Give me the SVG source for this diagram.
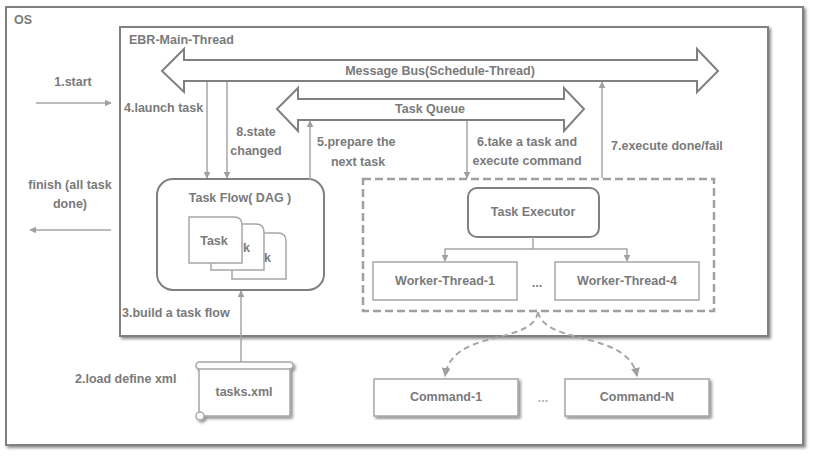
<svg xmlns="http://www.w3.org/2000/svg" width="814" height="458" viewBox="0 0 814 458">
<style>
text{font-family:"Liberation Sans",Arial,sans-serif;font-size:12.5px;font-weight:bold;fill:#7a7a7a}
.c{text-anchor:middle}
.box{fill:#fff;stroke:#808080;stroke-width:2}
.thin{fill:#fff;stroke:#a6a6a6;stroke-width:1.5}
.ln{fill:none;stroke:#a6a6a6;stroke-width:1.5}
.dash{fill:none;stroke:#a0a0a0;stroke-width:2.5;stroke-dasharray:8 4}
.dc{fill:none;stroke:#a6a6a6;stroke-width:2;stroke-dasharray:6 4}
.big{fill:#fff;stroke:#808080;stroke-width:2;stroke-linejoin:miter}
</style>
<defs>
<filter id="sh" x="-5%" y="-5%" width="115%" height="115%">
<feDropShadow dx="2" dy="2" stdDeviation="1.5" flood-color="#000" flood-opacity="0.45"/>
</filter>
<marker id="ah" viewBox="0 0 10 10" refX="9" refY="5" markerWidth="7" markerHeight="7" orient="auto" markerUnits="userSpaceOnUse">
<path d="M0,0 L10,5 L0,10 z" fill="#a0a0a0"/>
</marker>
<marker id="ah2" viewBox="0 0 10 10" refX="9" refY="5" markerWidth="9" markerHeight="9" orient="auto" markerUnits="userSpaceOnUse">
<path d="M0,0 L10,5 L0,10 z" fill="#a0a0a0"/>
</marker>
</defs>
<rect width="814" height="458" fill="#fff"/>

<g id="os">
<rect x="6" y="7" width="797" height="438" class="box" filter="url(#sh)"/>
<text x="14" y="24">OS</text>
</g>

<g id="ebr-main-thread">
<rect x="120" y="27" width="648" height="309" class="box" filter="url(#sh)"/>
<text x="129" y="44">EBR-Main-Thread</text>
</g>

<g id="message-bus">
<polygon class="big" points="162,71 184,49 184,60 697,60 697,49 718,71 697,92 697,81 184,81 184,92"/>
<text class="c" x="440" y="75">Message Bus(Schedule-Thread)</text>
</g>

<g id="task-queue">
<polygon class="big" points="277,109 298,88 298,99 564,99 564,88 584,109 564,131 564,120 298,120 298,131"/>
<text class="c" x="430" y="113">Task Queue</text>
</g>

<g id="task-flow">
<rect x="157" y="179" width="167" height="111" rx="16" class="box"/>
<text class="c" x="240" y="202">Task Flow( DAG )</text>
<path d="M232,279 V233 H278 Q286,233 286,241 V279 Z" class="thin"/>
<text x="264" y="262">k</text>
<path d="M211,270 V224 H256 Q264,224 264,232 V270 Z" class="thin"/>
<text x="243" y="252">k</text>
<path d="M189,263 V217 H234 Q242,217 242,225 V263 Z" class="thin"/>
<text class="c" x="214" y="245">Task</text>
</g>

<g id="tasks-xml">
<g filter="url(#sh)">
<path d="M199,366 H290 V416 H199 Z" fill="#fff" stroke="#a6a6a6" stroke-width="1.5"/>
<rect x="196" y="362" width="97" height="7" rx="3.5" fill="#fff" stroke="#a6a6a6" stroke-width="1.5"/>
<circle cx="200" cy="416" r="4" fill="#fff" stroke="#a6a6a6" stroke-width="1.5"/>
</g>
<text class="c" x="244" y="396">tasks.xml</text>
</g>

<g id="executor-group">
<rect x="363" y="179" width="351" height="132" class="dash"/>
</g>

<g id="task-executor">
<rect x="468" y="188" width="131" height="49" rx="9" class="box"/>
<text class="c" x="533" y="216">Task Executor</text>
</g>

<g id="worker-thread-1">
<rect x="373" y="262" width="144" height="38" class="thin"/>
<text class="c" x="445" y="285">Worker-Thread-1</text>
</g>
<g id="worker-ellipsis"><text class="c" x="537" y="287">...</text></g>
<g id="worker-thread-4">
<rect x="555" y="262" width="144" height="38" class="thin"/>
<text class="c" x="627" y="285">Worker-Thread-4</text>
</g>

<g id="command-1">
<rect x="374" y="379" width="144" height="37" class="thin" filter="url(#sh)"/>
<text class="c" x="446" y="401">Command-1</text>
</g>
<g id="command-ellipsis"><text class="c" x="543" y="402" style="fill:#b0b0b0">...</text></g>
<g id="command-n">
<rect x="565" y="379" width="144" height="37" class="thin" filter="url(#sh)"/>
<text class="c" x="637" y="401">Command-N</text>
</g>

<g id="connectors">
<line x1="36" y1="103" x2="111" y2="103" class="ln" marker-end="url(#ah)"/>
<text class="c" x="73" y="86">1.start</text>
<line x1="111" y1="230" x2="30" y2="230" class="ln" marker-end="url(#ah)"/>
<text class="c" x="70" y="189">finish (all task</text>
<text class="c" x="70" y="208">done)</text>
<line x1="207" y1="82" x2="207" y2="178" class="ln" marker-end="url(#ah)"/>
<text x="124" y="112">4.launch task</text>
<line x1="227" y1="82" x2="227" y2="178" class="ln" marker-end="url(#ah)"/>
<text class="c" x="256" y="136">8.state</text>
<text class="c" x="256" y="155">changed</text>
<line x1="310" y1="180" x2="310" y2="121" class="ln" marker-end="url(#ah)"/>
<text x="317" y="146">5.prepare the</text>
<text class="c" x="358" y="166">next task</text>
<line x1="467" y1="121" x2="467" y2="178" class="ln" marker-end="url(#ah)"/>
<text class="c" x="527" y="146">6.take a task and</text>
<text class="c" x="527" y="165">execute command</text>
<line x1="602" y1="178" x2="602" y2="82" class="ln" marker-end="url(#ah)"/>
<text x="611" y="150">7.execute done/fail</text>
<line x1="241" y1="362" x2="241" y2="291" class="ln" marker-end="url(#ah)"/>
<text x="122" y="317">3.build a task flow</text>
<text x="75" y="383">2.load define xml</text>
<path d="M533,237 V249 M445,249 H627" class="ln"/>
<line x1="445" y1="248.5" x2="445" y2="261" class="ln" marker-end="url(#ah)"/>
<line x1="627" y1="248.5" x2="627" y2="261" class="ln" marker-end="url(#ah)"/>
<path d="M538,312 C532,346 452,328 445,376" class="dc" marker-end="url(#ah2)"/>
<path d="M538,312 C546,346 628,330 637,376" class="dc" marker-end="url(#ah2)"/>
</g>
</svg>
